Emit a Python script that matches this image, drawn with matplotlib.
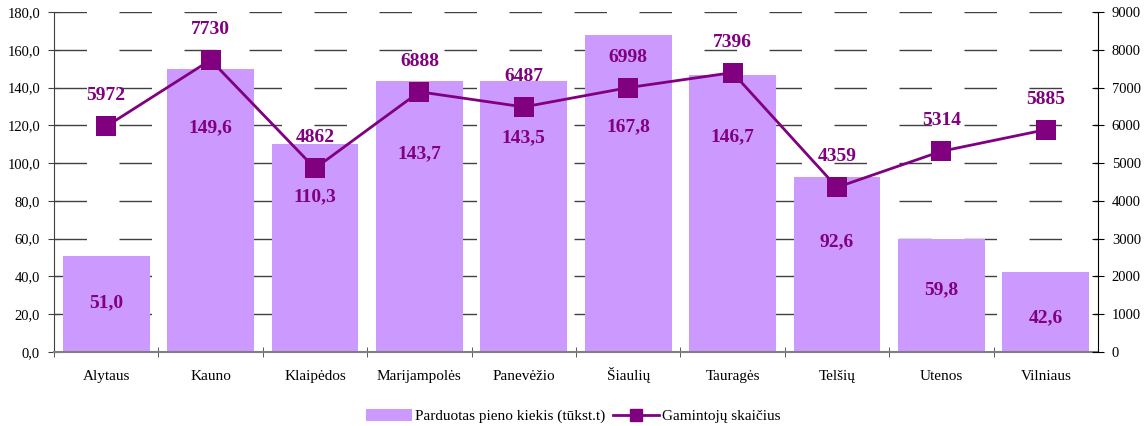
import matplotlib.pyplot as plt
from matplotlib.patches import Patch
from matplotlib.lines import Line2D
from matplotlib.ticker import FuncFormatter

plt.rcParams['font.family'] = ['Liberation Serif', 'DejaVu Serif']

# Pieno supirkimas pagal apskritis
regions = ['Alytaus', 'Kauno', 'Klaipėdos', 'Marijampolės', 'Panevėžio',
           'Šiaulių', 'Tauragės', 'Telšių', 'Utenos', 'Vilniaus']
milk_sold = [51.0, 149.6, 110.3, 143.7, 143.5, 167.8, 146.7, 92.6, 59.8, 42.6]
producers = [5972, 7730, 4862, 6888, 6487, 6998, 7396, 4359, 5314, 5885]

# where the value text sits inside each bar (left axis units)
bar_label_y = [25.9, 118.6, 82.1, 104.8, 113.3, 119.1, 113.8, 58.2, 32.8, 18.0]

bar_color = '#CC99FF'
line_color = '#800080'

fig = plt.figure(figsize=(11.46, 4.26), dpi=100)
ax = fig.add_axes([0.0471, 0.1737, 0.9110, 0.7981])
x = list(range(len(regions)))

ax.bar(x, milk_sold, width=0.83, color=bar_color, zorder=2)
ax.set_xlim(-0.5, len(regions) - 0.5)
ax.set_ylim(0, 180)
yticks = list(range(0, 181, 20))
ax.set_yticks(yticks)
ax.yaxis.set_major_formatter(FuncFormatter(lambda v, p: f'{v:.1f}'.replace('.', ',')))

# dashed gridlines kept underneath the bars
for t in yticks[1:]:
    ax.axhline(t, color='#404040', linewidth=1, linestyle=(0, (23.4, 23.4)), zorder=1)

for xi, v, ly in zip(x, milk_sold, bar_label_y):
    ax.text(xi, ly, f'{v:.1f}'.replace('.', ','), ha='center', va='center',
            fontsize=14, fontweight='bold', color=line_color, zorder=3)

# category labels centred, separator ticks between bars
ax.set_xticks(x)
ax.set_xticklabels(regions, fontsize=11)
ax.tick_params(axis='x', which='major', length=0, pad=20)
for lbl in ax.get_xticklabels():
    lbl.set_va('baseline')
ax.set_xticks([i + 0.5 for i in x[:-1]] + [-0.5], minor=True)
ax.tick_params(axis='x', which='minor', length=7, direction='inout', color='#404040')
ax.tick_params(axis='y', length=8, direction='inout', color='#404040', labelsize=10.5, pad=6)

for side in ['top', 'right']:
    ax.spines[side].set_visible(False)
ax.spines['left'].set_color('#404040')
ax.spines['bottom'].set_color('#808080')
ax.spines['bottom'].set_linewidth(1.5)
ax.spines['bottom'].set_zorder(3)

# producers on the right axis
ax2 = ax.twinx()
ax2.plot(x, producers, color=line_color, linewidth=2, marker='s',
         markersize=14, markeredgewidth=0, zorder=4)
ax2.set_ylim(0, 9000)
ax2.set_yticks(range(0, 9001, 1000))
for xi, v in zip(x, producers):
    ax2.annotate(str(v), (xi, v), xytext=(0, 22), textcoords='offset points',
                 ha='center', va='center', fontsize=14, fontweight='bold',
                 color=line_color, zorder=5)
ax2.tick_params(axis='y', length=8, direction='inout', labelsize=10.5, pad=6)
for side in ['top', 'left', 'bottom']:
    ax2.spines[side].set_visible(False)

handles = [Patch(facecolor=bar_color, edgecolor='none'),
           Line2D([], [], color=line_color, linewidth=2, marker='s', markersize=9)]
fig.legend(handles, ['Parduotas pieno kiekis (tūkst.t)', 'Gamintojų skaičius'],
           loc='center', bbox_to_anchor=(0.5, 0.023), ncol=2, frameon=False,
           fontsize=11, handlelength=3, handleheight=0.8, columnspacing=0.5,
           handletextpad=0.2)

fig.savefig('out.png', dpi=100)
